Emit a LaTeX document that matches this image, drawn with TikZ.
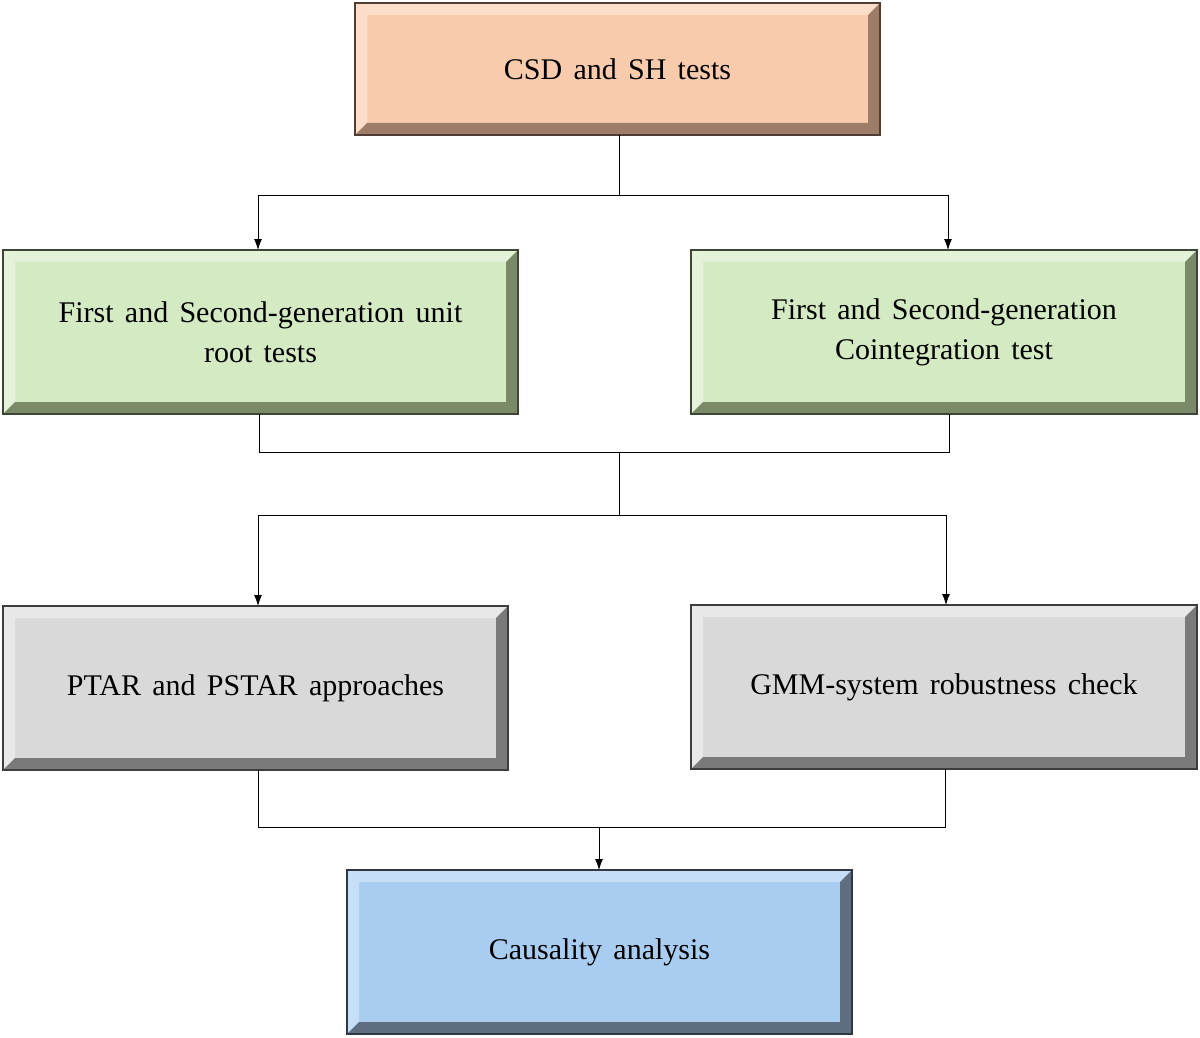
\documentclass[tikz,border=0pt]{standalone}
\usepackage{fontspec}
\setmainfont{Liberation Serif}[WordSpace=1.5]
\usetikzlibrary{arrows.meta}
\begin{document}
\newcommand\bbox[9]{%
 \fill[#6] (#2,#3) rectangle (#4,#5);
 \fill[#7] (#2,#3) -- (#4,#3) -- (#4-12,#3+12) -- (#2+12,#3+12) -- (#2+12,#5-12) -- (#2,#5) -- cycle;
 \fill[#8] (#4,#3) -- (#4,#5) -- (#2,#5) -- (#2+12,#5-12) -- (#4-12,#5-12) -- (#4-12,#3+12) -- cycle;
 \draw[#8!50!black,line width=1.5pt] (#2,#3) rectangle (#4,#5);
 \node[txt] (#1) at ({(#2+#4)/2},{(#3+#5)/2}) {#9};}
\begin{tikzpicture}[x=1pt,y=-1pt,
 txt/.style={align=center,font=\fontsize{30}{40}\selectfont},
 con/.style={line width=0.9pt,black},
 arr/.style={con,-{Latex[length=11pt,width=8pt]}}]
\useasboundingbox (0,0) rectangle (1200,1038);
\fill[white] (0,0) rectangle (1200,1038);
\definecolor{pf}{HTML}{F8CBAD}\definecolor{pl}{HTML}{FBDDC8}\definecolor{pd}{HTML}{9E7D68}
\definecolor{gf}{HTML}{D3EAC2}\definecolor{gl}{HTML}{E3F2D8}\definecolor{gd}{HTML}{7A8A68}
\definecolor{yf}{HTML}{D9D9D9}\definecolor{yl}{HTML}{E8E8E8}\definecolor{yd}{HTML}{7A7A7A}
\definecolor{bf}{HTML}{A9CDF1}\definecolor{bl}{HTML}{C6DFF6}\definecolor{bd}{HTML}{5E6E80}
\bbox{top}{355}{3}{880}{135}{pf}{pl}{pd}{CSD and SH tests}
\bbox{gl}{3}{250}{518}{414}{gf}{gl}{gd}{First and Second-generation unit\\root tests}
\bbox{gr}{691}{250}{1197}{414}{gf}{gl}{gd}{First and Second-generation\\Cointegration test}
\bbox{yl}{3}{606}{508}{770}{yf}{yl}{yd}{PTAR and PSTAR approaches}
\bbox{yr}{691}{605}{1197}{769}{yf}{yl}{yd}{GMM-system robustness check}
\bbox{bt}{347}{870}{852}{1034}{bf}{bl}{bd}{Causality analysis}
\coordinate (t0) at (619,135);
\coordinate (j1) at (619,195);
\coordinate (j1l) at (258,195);\coordinate (j1r) at (948,195);
\coordinate (a1l) at (258,250);\coordinate (a1r) at (948,250);
\coordinate (g0l) at (259,414);\coordinate (g0r) at (949,414);
\coordinate (j2l) at (259,452);\coordinate (j2r) at (949,452);\coordinate (j2) at (619,452);
\coordinate (j3) at (619,515);\coordinate (j3l) at (258,515);\coordinate (j3r) at (946,515);
\coordinate (a3l) at (258,606);\coordinate (a3r) at (946,605);
\coordinate (y0l) at (258,770);\coordinate (y0r) at (945,769);
\coordinate (j4l) at (258,827);\coordinate (j4r) at (945,827);\coordinate (j4) at (599,827);
\coordinate (a4) at (599,870);
\draw[con] (t0) -- (j1);
\draw[con] (j1l) -- (j1r);
\draw[arr] (j1l) -- (a1l);
\draw[arr] (j1r) -- (a1r);
\draw[con] (g0l) -- (j2l) -- (j2r) -- (g0r);
\draw[con] (j2) -- (j3);
\draw[con] (j3l) -- (j3r);
\draw[arr] (j3l) -- (a3l);
\draw[arr] (j3r) -- (a3r);
\draw[con] (y0l) -- (j4l) -- (j4r) -- (y0r);
\draw[arr] (j4) -- (a4);
\end{tikzpicture}
\end{document}
